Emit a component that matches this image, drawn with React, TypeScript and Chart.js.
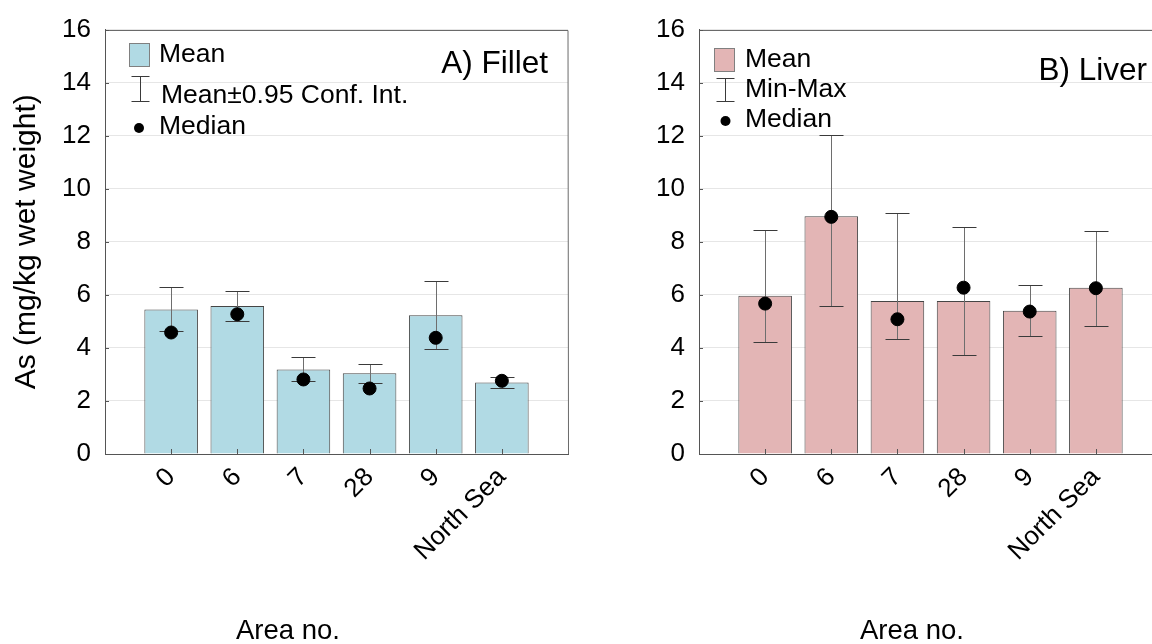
import React, { useEffect, useRef } from "react";
import { Chart, registerables } from "chart.js";

Chart.register(...registerables);

const FONT = '"Liberation Sans", Arial, Helvetica, sans-serif';
Chart.defaults.font.family = FONT;

// ---------- data ----------
const areas = ["0", "6", "7", "28", "9", "North Sea"];

const filletMean = [5.45, 5.58, 3.19, 3.04, 5.23, 2.7];
const filletCiLow = [4.63, 5.01, 2.75, 2.68, 3.95, 2.47];
const filletCiHigh = [6.28, 6.14, 3.65, 3.39, 6.54, 2.92];
const filletMedian = [4.58, 5.27, 2.81, 2.47, 4.38, 2.76];

const liverMean = [5.97, 8.96, 5.77, 5.77, 5.4, 6.27];
const liverMin = [4.22, 5.58, 4.35, 3.73, 4.43, 4.83];
const liverMax = [8.45, 12.02, 9.09, 8.57, 6.39, 8.42];
const liverMedian = [5.67, 8.94, 5.08, 6.27, 5.37, 6.25];

const yMin = 0;
const yMax = 16;
const yStep = 2;

type PanelCfg = {
  mean: number[];
  low: number[];
  high: number[];
  median: number[];
  fill: string;
  errLabel: string;
  panelLabel: string;
  showYTitle: boolean;
  canvasLeft: number;
  canvasWidth: number;
  yWidth: number;
  padRight: number;
  legend: {
    sx: number; sy: number;
    meanText: [number, number];
    errX: number; errTop: number; errBot: number; errText: [number, number];
    dot: [number, number]; dotText: [number, number];
  };
  labelPos: [number, number];
  xTitlePos: [number, number];
};

const fillet: PanelCfg = {
  mean: filletMean,
  low: filletCiLow,
  high: filletCiHigh,
  median: filletMedian,
  fill: "#b1dae4",
  errLabel: "Mean\u00b10.95 Conf. Int.",
  panelLabel: "A) Fillet",
  showYTitle: true,
  canvasLeft: 0,
  canvasWidth: 576,
  yWidth: 105,
  padRight: 8,
  legend: {
    sx: 129, sy: 43,
    meanText: [30, 12],
    errX: 11, errTop: 33, errBot: 58, errText: [32, 53],
    dot: [10, 85], dotText: [30, 84],
  },
  labelPos: [548, 64],
  xTitlePos: [288, 631],
};

const liver: PanelCfg = {
  mean: liverMean,
  low: liverMin,
  high: liverMax,
  median: liverMedian,
  fill: "#e3b5b5",
  errLabel: "Min-Max",
  panelLabel: "B) Liver",
  showYTitle: false,
  canvasLeft: 576,
  canvasWidth: 600,
  yWidth: 123,
  padRight: 14,
  legend: {
    sx: 138, sy: 48,
    meanText: [31, 12],
    errX: 10.5, errTop: 30, errBot: 53, errText: [31, 42],
    dot: [11.5, 73], dotText: [31, 72],
  },
  labelPos: [571, 71],
  xTitlePos: [336, 631],
};

function decorPlugin(cfg: PanelCfg) {
  return {
    id: "decor",
    afterDatasetDraw(chart: any, args: any) {
      if (args.index !== 0) return;
      const { ctx, scales } = chart;
      const x = scales.x;
      const y = scales.y;
      ctx.save();
      ctx.lineWidth = 1;
      for (let i = 0; i < cfg.mean.length; i++) {
        const px = Math.round(x.getPixelForValue(i + 1)) + 0.5;
        const pt = Math.round(y.getPixelForValue(cfg.high[i])) + 0.5;
        const pb = Math.round(y.getPixelForValue(cfg.low[i])) + 0.5;
        ctx.strokeStyle = "#6e6e6e";
        ctx.beginPath();
        ctx.moveTo(px, pt);
        ctx.lineTo(px, pb);
        ctx.stroke();
        ctx.strokeStyle = "#3a3a3a";
        ctx.beginPath();
        ctx.moveTo(px - 12, pt);
        ctx.lineTo(px + 12, pt);
        ctx.moveTo(px - 12, pb);
        ctx.lineTo(px + 12, pb);
        ctx.stroke();
      }
      ctx.restore();
    },
    afterDraw(chart: any) {
      const { ctx, chartArea, scales } = chart;
      const x = scales.x;
      const y = scales.y;
      ctx.save();
      // top / right frame
      ctx.strokeStyle = "#6a6a6a";
      ctx.lineWidth = 1;
      ctx.beginPath();
      ctx.moveTo(chartArea.left, Math.round(chartArea.top) + 0.5);
      ctx.lineTo(chartArea.right, Math.round(chartArea.top) + 0.5);
      ctx.lineTo(Math.round(chartArea.right) + 0.5, chartArea.bottom);
      ctx.stroke();
      // inward ticks
      ctx.strokeStyle = "#555";
      ctx.beginPath();
      y.ticks.forEach((t: any) => {
        const py = Math.round(y.getPixelForValue(t.value)) + 0.5;
        ctx.moveTo(chartArea.left, py);
        ctx.lineTo(chartArea.left + 4, py);
      });
      for (let i = 0; i < areas.length; i++) {
        const px = Math.round(x.getPixelForValue(i + 1)) + 0.5;
        ctx.moveTo(px, chartArea.bottom);
        ctx.lineTo(px, chartArea.bottom - 5);
      }
      ctx.stroke();

      // legend
      const L = cfg.legend;
      ctx.fillStyle = cfg.fill;
      ctx.fillRect(L.sx, L.sy, 21, 24);
      ctx.strokeStyle = "#808080";
      ctx.strokeRect(L.sx + 0.5, L.sy + 0.5, 20, 23);
      ctx.strokeStyle = "#3a3a3a";
      ctx.beginPath();
      const ex = Math.round(L.sx + L.errX) + 0.5;
      ctx.moveTo(ex, L.sy + L.errTop);
      ctx.lineTo(ex, L.sy + L.errBot);
      ctx.moveTo(ex - 9, L.sy + L.errTop + 0.5);
      ctx.lineTo(ex + 9, L.sy + L.errTop + 0.5);
      ctx.moveTo(ex - 9, L.sy + L.errBot + 0.5);
      ctx.lineTo(ex + 9, L.sy + L.errBot + 0.5);
      ctx.stroke();
      ctx.fillStyle = "#000";
      ctx.beginPath();
      ctx.arc(L.sx + L.dot[0], L.sy + L.dot[1], 5, 0, Math.PI * 2);
      ctx.fill();

      ctx.font = `26.5px ${FONT}`;
      ctx.textBaseline = "middle";
      ctx.textAlign = "left";
      ctx.fillText("Mean", L.sx + L.meanText[0], L.sy + L.meanText[1]);
      ctx.fillText(cfg.errLabel, L.sx + L.errText[0], L.sy + L.errText[1]);
      ctx.fillText("Median", L.sx + L.dotText[0], L.sy + L.dotText[1]);

      // panel label
      ctx.font = `31.5px ${FONT}`;
      ctx.textAlign = "right";
      ctx.fillText(cfg.panelLabel, cfg.labelPos[0], cfg.labelPos[1]);

      // x title
      ctx.font = `27.5px ${FONT}`;
      ctx.textAlign = "center";
      ctx.fillText("Area no.", cfg.xTitlePos[0], cfg.xTitlePos[1]);
      ctx.restore();
    },
  };
}

function Panel({ cfg }: { cfg: PanelCfg }) {
  const ref = useRef<HTMLCanvasElement>(null);
  useEffect(() => {
    const chart = new Chart(ref.current as HTMLCanvasElement, {
      type: "bar",
      data: {
        datasets: [
          {
            type: "bar",
            label: "Mean",
            data: cfg.mean.map((v, i) => ({ x: i + 1, y: v })),
            backgroundColor: cfg.fill,
            borderColor: "#454545",
            borderWidth: 1,
            barPercentage: 0.81,
            categoryPercentage: 1,
            order: 1,
          } as any,
          {
            type: "scatter",
            label: "Median",
            data: cfg.median.map((v, i) => ({ x: i + 1, y: v })),
            backgroundColor: "#000",
            borderColor: "#000",
            pointRadius: 6.5,
            pointHoverRadius: 6.5,
            order: 0,
          } as any,
        ],
      },
      options: {
        animation: false,
        responsive: false,
        events: [],
        layout: { padding: { top: 29, right: cfg.padRight, left: 0, bottom: 0 } },
        plugins: { legend: { display: false }, tooltip: { enabled: false } },
        scales: {
          x: {
            type: "linear",
            offset: false,
            min: 0,
            max: areas.length + 1,
            afterBuildTicks: (s: any) => {
              const t = [];
              for (let v = 0; v <= areas.length + 1; v++) t.push({ value: v });
              s.ticks = t;
            },
            ticks: {
              autoSkip: false,
              maxRotation: 45,
              minRotation: 45,
              padding: 8,
              color: "#000",
              font: { size: 26 },
              callback: (v: any) => areas[Number(v) - 1] ?? "",
            },
            grid: { display: false, drawTicks: false },
            border: { color: "#555" },
            afterFit: (s: any) => {
              s.height = 190;
              s.paddingLeft = 0;
              s.paddingRight = 0;
            },
          } as any,
          y: {
            min: yMin,
            max: yMax,
            ticks: { stepSize: yStep, padding: 14, color: "#000", font: { size: 26 } },
            grid: { color: "#e6e6e6", drawTicks: false },
            border: { color: "#555" },
            title: {
              display: cfg.showYTitle,
              text: "As (mg/kg wet weight)",
              color: "#000",
              font: { size: 30 },
              padding: { top: 9, bottom: 0 },
            },
            afterFit: (s: any) => {
              s.width = cfg.yWidth;
            },
          } as any,
        },
      },
      plugins: [decorPlugin(cfg)],
    });
    return () => chart.destroy();
  }, []);
  return (
    <canvas
      ref={ref}
      width={cfg.canvasWidth}
      height={644}
      style={{ position: "absolute", left: cfg.canvasLeft, top: 0, width: cfg.canvasWidth, height: 644 }}
    />
  );
}

export default function App() {
  return (
    <div
      style={{
        position: "fixed",
        left: 0,
        top: 0,
        width: 1152,
        height: 644,
        overflow: "hidden",
        background: "#fff",
      }}
    >
      <Panel cfg={fillet} />
      <Panel cfg={liver} />
    </div>
  );
}
